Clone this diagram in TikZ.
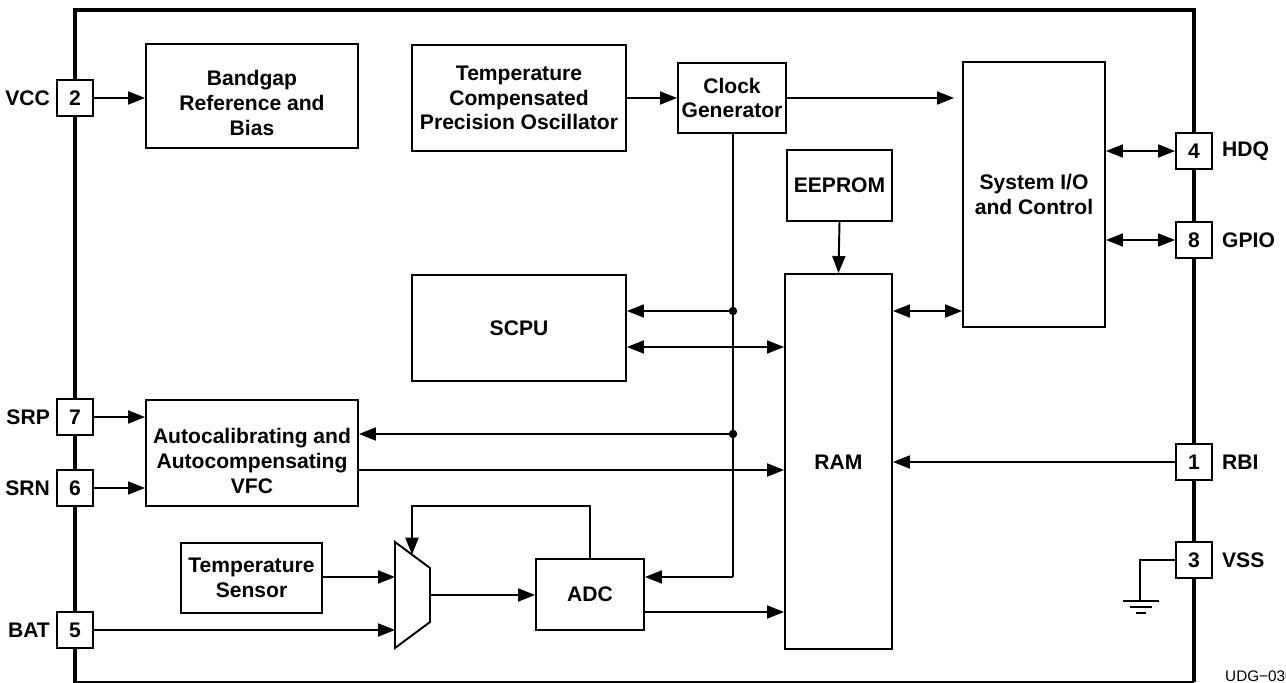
\documentclass[tikz,border=0pt]{standalone}
\usepackage{fontspec}
\setmainfont{Liberation Sans}
\usetikzlibrary{positioning, arrows.meta}

\newcommand{\lblfont}{\fontsize{12}{14}\selectfont\bfseries}

\tikzset{
    blk/.style={draw, line width=1.1pt, align=center, inner sep=0pt, font=\lblfont},
    txt/.style={align=center, font=\lblfont},
    pinbox/.style={draw, fill=white, line width=1.1pt, minimum size=0.72cm, inner sep=0pt, font=\lblfont},
    pinlbl/.style={font=\lblfont},
    wire/.style={line width=1.1pt},
    arr/.style={wire, -{Triangle[length=3.4mm, width=2.6mm]}},
    biarr/.style={wire, {Triangle[length=3.4mm, width=2.6mm]}-{Triangle[length=3.4mm, width=2.6mm]}},
}

\begin{document}
\begin{tikzpicture}[x=0.02cm, y=-0.02cm]
    \useasboundingbox (0,0) rectangle (1286,683);

    % Chip outline
    \draw[line width=2.6pt] (75,683) -- (75,10) -- (1194,10) -- (1194,682);
    \draw[wire] (75,682) -- (1194,682);

    % Function blocks
    \node[blk, minimum width=212*0.02cm, minimum height=104*0.02cm] (bandgap) at (252,96) {};
    \node[txt] (bandgaplbl) at (252,103) {Bandgap\\Reference and\\Bias};
    \node[blk, minimum width=214*0.02cm, minimum height=106*0.02cm] (osc) at (519,98) {Temperature\\Compensated\\Precision Oscillator};
    \node[blk, minimum width=108*0.02cm, minimum height=70*0.02cm] (clk) at (732,98) {Clock\\Generator};
    \node[blk, minimum width=142*0.02cm, minimum height=265*0.02cm] (sysio) at (1034,194.5) {System I/O\\and Control};
    \node[blk, minimum width=105*0.02cm, minimum height=71*0.02cm] (eeprom) at (839.5,185.5) {EEPROM};
    \node[blk, minimum width=107*0.02cm, minimum height=375*0.02cm] (ram) at (838.5,461.5) {};
    \node[txt] (ramlbl) at (838.5,462) {RAM};
    \node[blk, minimum width=214*0.02cm, minimum height=106*0.02cm] (scpu) at (519,328) {SCPU};
    \node[blk, minimum width=212*0.02cm, minimum height=106*0.02cm] (vfc) at (252,453) {};
    \node[txt] (vfclbl) at (252,461) {Autocalibrating and\\Autocompensating\\VFC};
    \node[blk, minimum width=141*0.02cm, minimum height=70*0.02cm] (tsens) at (251.5,578) {Temperature\\Sensor};
    \node[blk, minimum width=108*0.02cm, minimum height=71*0.02cm] (adc) at (590,594.5) {ADC};

    % Multiplexer
    \draw[wire] (395,542) -- (430,568) -- (430,622) -- (395,648) -- cycle;
    \coordinate (muxtop) at (412,554.6);
    \coordinate (muxout) at (430,595);

    % Pins
    \node[pinbox] (vcc) at (75,98) {2};
    \node[pinbox] (srp) at (75,417) {7};
    \node[pinbox] (srn) at (75,488) {6};
    \node[pinbox] (bat) at (75,630) {5};
    \node[pinbox] (hdq) at (1194,151) {4};
    \node[pinbox] (gpio) at (1194,240) {8};
    \node[pinbox] (rbi) at (1194,462) {1};
    \node[pinbox] (vss) at (1194,560) {3};
    \node[pinlbl, left=0cm of vcc] (vcclbl) {VCC};
    \node[pinlbl, left=0cm of srp] (srplbl) {SRP};
    \node[pinlbl, left=0cm of srn] (srnlbl) {SRN};
    \node[pinlbl, left=0cm of bat] (batlbl) {BAT};
    \node[pinlbl, right=0.06cm of hdq] (hdqlbl) {HDQ};
    \node[pinlbl, right=0.06cm of gpio] (gpiolbl) {GPIO};
    \node[pinlbl, right=0.06cm of rbi] (rbilbl) {RBI};
    \node[pinlbl, right=0.06cm of vss] (vsslbl) {VSS};

    % Clock distribution
    \coordinate (clkend) at (954,98);
    \coordinate (dot1) at (733,311);
    \coordinate (dot2) at (733,434);
    \draw[arr] (osc.east) -- (clk.west);
    \draw[arr] (clk.east) -- (clkend);
    \draw[wire] (clk.south -| dot1) -- (733,577);
    \draw[arr] (733,577) -- (adc.east |- 0,577);
    \draw[arr] (dot1) -- (scpu.east |- dot1);
    \draw[arr] (dot2) -- (vfc.east |- dot2);
    \fill (dot1) circle (0.085cm);
    \fill (dot2) circle (0.085cm);

    % Data paths
    \draw[arr] (vcc.east) -- (bandgap.west |- vcc);
    \draw[arr] (eeprom.south) -- (ram.north);
    \draw[biarr] (scpu.east |- 0,347) -- (ram.west |- 0,347);
    \draw[biarr] (ram.east |- 0,311) -- (sysio.west |- 0,311);
    \draw[biarr] (sysio.east |- hdq) -- (hdq.west);
    \draw[biarr] (sysio.east |- gpio) -- (gpio.west);
    \draw[arr] (srp.east) -- (vfc.west |- srp);
    \draw[arr] (srn.east) -- (vfc.west |- srn);
    \draw[arr] (vfc.east |- 0,470) -- (ram.west |- 0,470);
    \draw[arr] (rbi.west) -- (ram.east |- rbi);
    \draw[arr] (tsens.east |- 0,577) -- (395,577);
    \draw[arr] (bat.east) -- (395,630);
    \draw[arr] (muxout) -- (adc.west |- muxout);
    \draw[arr] (590,559) -- (590,506) -- (412,506) -- (muxtop);
    \draw[arr] (adc.east |- 0,612) -- (ram.west |- 0,612);

    % Ground
    \draw[wire] (vss.west) -- (1140,560) -- (1140,601);
    \draw[wire] (1123,601) -- (1159,601);
    \draw[wire] (1130,607) -- (1152,607);
    \draw[wire] (1136,613) -- (1146,613);

    \node[anchor=base west, font=\fontsize{8.7}{10}\selectfont] (udg) at (1219,681) {UDG−030};
\end{tikzpicture}
\end{document}
